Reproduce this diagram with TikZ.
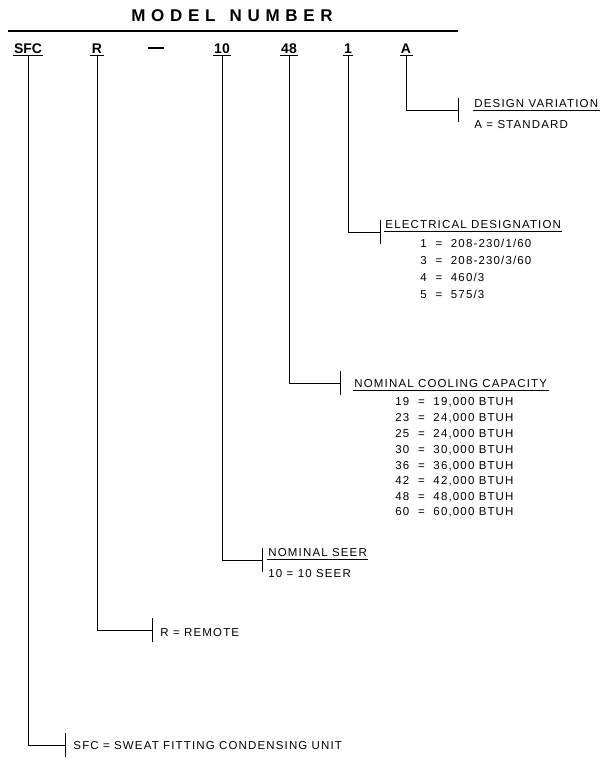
\documentclass[tikz,border=0pt]{standalone}
\usepackage{fontspec}
\setmainfont{Liberation Sans}
\newfontfamily\lblfont[LetterSpace=10]{Liberation Sans}
\begin{document}
\begin{tikzpicture}[x=1pt,y=-1pt,line width=0.9pt,
  code/.style={font=\bfseries\fontsize{14}{16}\selectfont,inner sep=1pt},
  lbl/.style={font=\lblfont\fontsize{11.5}{13}\selectfont,anchor=west,inner sep=1pt}]
\useasboundingbox (0,0) rectangle (608,768);
\node[font=\bfseries\fontsize{17}{19}\selectfont] (title) at (232,16) {M\,\,O\,\,D\,\,E\,\,L\,\,\,\,\,N\,\,U\,\,M\,\,B\,\,E\,\,R};
\draw[line width=1.8pt] (8,31) -- (458,31);
% codes
\node[code] (sfc) at (28,49) {SFC};
\node[code] (r) at (97,49) {R};
\node[code] (dash) at (156,48) {\rule{16pt}{2.5pt}};
\node[code] (c10) at (222,49) {10};
\node[code] (c48) at (289,49) {48};
\node[code] (c1) at (348,49) {1};
\node[code] (ca) at (406,49) {A};
\foreach \n in {sfc,r,c10,c48,c1,ca}{\draw (\n.south west) -- (\n.south east);}
% label ends
\coordinate (ea) at (458,110);
\coordinate (e1) at (380,232);
\coordinate (e48) at (340,383);
\coordinate (e10) at (262,560);
\coordinate (er) at (152,630);
\coordinate (esfc) at (65,745);
\draw (ca.south) -- (ca.south |- ea) -- (ea);
\draw (c1.south) -- (c1.south |- e1) -- (e1);
\draw (c48.south) -- (c48.south |- e48) -- (e48);
\draw (c10.south) -- (c10.south |- e10) -- (e10);
\draw (r.south) -- (r.south |- er) -- (er);
\draw (sfc.south) -- (sfc.south |- esfc) -- (esfc);
\foreach \c in {ea,e1,e48,e10,er,esfc}{\draw ([yshift=-12]\c) -- ([yshift=12]\c);}
% labels
\node[lbl] (dv) at (473,104) {DESIGN VARIATION};
\draw ([yshift=-1]dv.south west) -- ([yshift=-1]dv.south east);
\node[lbl] at (473,125) {A = STANDARD};
\node[lbl] (ed) at (384,225) {ELECTRICAL DESIGNATION};
\draw ([yshift=-1]ed.south west) -- ([yshift=-1]ed.south east);
\node[lbl] at (419,243) {1\ \ =\ \ 208-230/1/60};
\node[lbl] at (419,260) {3\ \ =\ \ 208-230/3/60};
\node[lbl] at (419,277) {4\ \ =\ \ 460/3};
\node[lbl] at (419,294) {5\ \ =\ \ 575/3};
\node[lbl] (nc) at (353,384) {NOMINAL COOLING CAPACITY};
\draw ([yshift=-1]nc.south west) -- ([yshift=-1]nc.south east);
\foreach \y/\a/\b in {402/19/19,418/23/24,434/25/24,450/30/30,466/36/36,481/42/42,497/48/48,512/60/60}
  {\node[lbl] at (394,\y) {\a\ \ =\ \ \b,000 BTUH};}
\node[lbl] (ns) at (267,553) {NOMINAL SEER};
\draw ([yshift=-1]ns.south west) -- ([yshift=-1]ns.south east);
\node[lbl] at (267,574) {10 = 10 SEER};
\node[lbl] at (159,633) {R = REMOTE};
\node[lbl] at (72,746) {SFC = SWEAT FITTING CONDENSING UNIT};
\end{tikzpicture}
\end{document}
